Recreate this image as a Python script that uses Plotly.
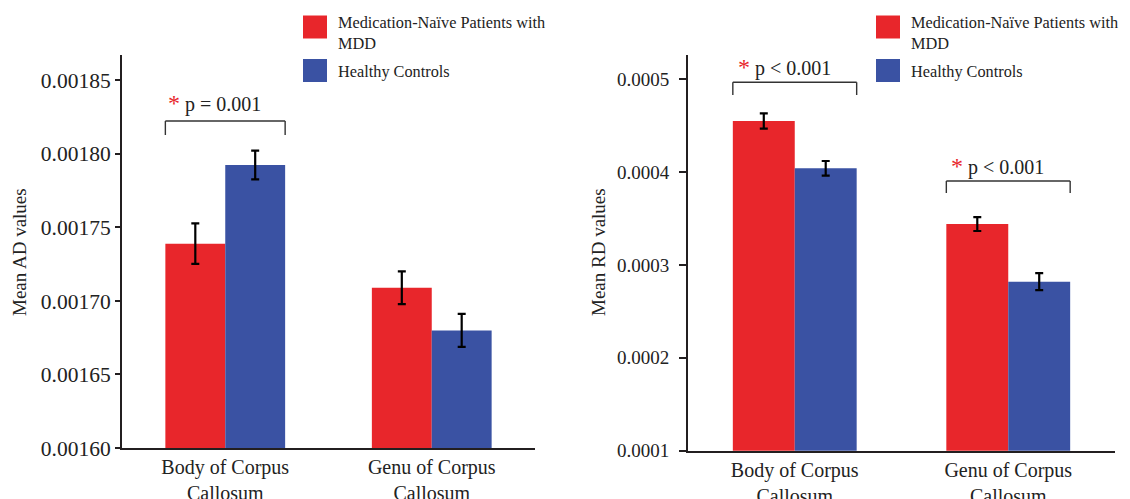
import plotly.graph_objects as go

# ---------------- data ----------------
categories = ["Body of Corpus<br>Callosum", "Genu of Corpus<br>Callosum"]
series_names = ["Medication-Naïve Patients with<br>MDD", "Healthy Controls"]

ad_mdd = [0.001739, 0.001709]
ad_mdd_err = [0.0000138, 0.0000111]
ad_hc = [0.0017925, 0.001680]
ad_hc_err = [0.0000098, 0.0000112]

rd_mdd = [0.000455, 0.000344]
rd_mdd_err = [0.0000082, 0.0000075]
rd_hc = [0.000404, 0.000282]
rd_hc_err = [0.0000079, 0.0000092]

ad_ticks = [0.00160, 0.00165, 0.00170, 0.00175, 0.00180, 0.00185]
rd_ticks = [0.0001, 0.0002, 0.0003, 0.0004, 0.0005]

# significance labels: (panel, category index, text, bracket level, bracket drop, text level)
sig = [
    ("1", 0, "p = 0.001", 0.0018224, 0.0000095, 0.0018347),
    ("2", 0, "p < 0.001", 0.0004966, 0.0000137, 0.0005133),
    ("2", 1, "p < 0.001", 0.0003903, 0.0000129, 0.0004065),
]

RED = "#E8262B"
BLUE = "#3A52A3"
FONT = "Liberation Serif"
AX = "#231f20"
OFF = 8                      # default page body margin
W, H = 1130 - OFF, 499 - OFF
BARGAP = 0.42

fig = go.Figure()

def add_bars(vals, errs, color, xa, ya):
    fig.add_trace(go.Bar(
        x=categories, y=vals, marker=dict(color=color, line=dict(width=0)),
        error_y=dict(type="data", array=errs, visible=True, color="black",
                     thickness=2.2, width=4),
        xaxis=xa, yaxis=ya, showlegend=False))

add_bars(ad_mdd, ad_mdd_err, RED, "x", "y")
add_bars(ad_hc, ad_hc_err, BLUE, "x", "y")
add_bars(rd_mdd, rd_mdd_err, RED, "x2", "y2")
add_bars(rd_hc, rd_hc_err, BLUE, "x2", "y2")

def px_x(p):
    return (p - OFF) / W

def px_y(p):
    return 1 - (p - OFF) / H

axis_common = dict(showgrid=False, zeroline=False, showline=True, linecolor=AX,
                   linewidth=2, automargin=False)

xt = dict(family=FONT, size=20, color="#222")

fig.update_layout(
    width=W, height=H, margin=dict(l=0, r=0, t=0, b=0),
    paper_bgcolor="white", plot_bgcolor="white",
    barmode="group", bargap=BARGAP, bargroupgap=0,
    font=dict(family=FONT, color="#222"),
    xaxis=dict(domain=[px_x(122), px_x(535)], anchor="y", range=[-0.5, 1.5],
               ticks="", tickfont=xt, **axis_common),
    yaxis=dict(domain=[px_y(448), px_y(55)], anchor="x",
               range=[0.0016, 0.0018673], tickvals=ad_ticks, tickformat=".5f",
               ticks="outside", ticklen=5, tickwidth=2, tickcolor=AX,
               tickfont=dict(family=FONT, size=21.5, color="#222"),
               **axis_common),
    xaxis2=dict(domain=[px_x(688), px_x(1115)], anchor="y2", range=[-0.5, 1.5],
                ticks="", tickfont=xt, **axis_common),
    yaxis2=dict(domain=[px_y(450.7), px_y(55)], anchor="x2",
                range=[0.0001, 0.000526], tickvals=rd_ticks, tickformat=".4f",
                ticks="outside", ticklen=7, tickwidth=2, tickcolor=AX,
                ticklabelstandoff=6,
                tickfont=dict(family=FONT, size=19, color="#222"),
                **axis_common),
)

# axis titles
fig.add_annotation(text="Mean AD values", x=px_x(19), y=px_y(252), xref="paper", yref="paper",
                   xanchor="center", yanchor="middle",
                   textangle=-90, showarrow=False, font=dict(family=FONT, size=19, color="#222"))
fig.add_annotation(text="Mean RD values", x=px_x(598), y=px_y(252), xref="paper", yref="paper",
                   xanchor="center", yanchor="middle",
                   textangle=-90, showarrow=False, font=dict(family=FONT, size=19, color="#222"))

# significance brackets
half = (1 - BARGAP) / 2
for panel, i, txt, lvl, drop, tlvl in sig:
    xr = "x" if panel == "1" else "x2"
    yr = "y" if panel == "1" else "y2"
    x0, x1 = i - half, i + half
    line = dict(color="#333", width=1.4)
    fig.add_shape(type="line", xref=xr, yref=yr, x0=x0, x1=x1, y0=lvl, y1=lvl, line=line)
    fig.add_shape(type="line", xref=xr, yref=yr, x0=x0, x1=x0, y0=lvl, y1=lvl - drop, line=line)
    fig.add_shape(type="line", xref=xr, yref=yr, x0=x1, x1=x1, y0=lvl, y1=lvl - drop, line=line)
    fig.add_annotation(xref=xr, yref=yr, x=i - 0.05, y=tlvl, showarrow=False,
                       text=f"<span style='color:{RED}; font-size:24px'>*</span> {txt}",
                       font=dict(family=FONT, size=20, color="#222"))

# legends (one per panel)
for lx in (303, 876):
    for k, (name, color, y0) in enumerate([(series_names[0], RED, 15.5), (series_names[1], BLUE, 59)]):
        fig.add_shape(type="rect", xref="paper", yref="paper",
                      x0=px_x(lx), x1=px_x(lx + 24), y0=px_y(y0), y1=px_y(y0 + 23),
                      fillcolor=color, line=dict(width=0))
        fig.add_annotation(text=name, xref="paper", yref="paper", x=px_x(lx + 33),
                           y=px_y(y0 - 4 if k == 0 else y0 + 1), xanchor="left", yanchor="top",
                           align="left", showarrow=False,
                           font=dict(family=FONT, size=16.3, color="#222"))

fig.write_html("out.html")
